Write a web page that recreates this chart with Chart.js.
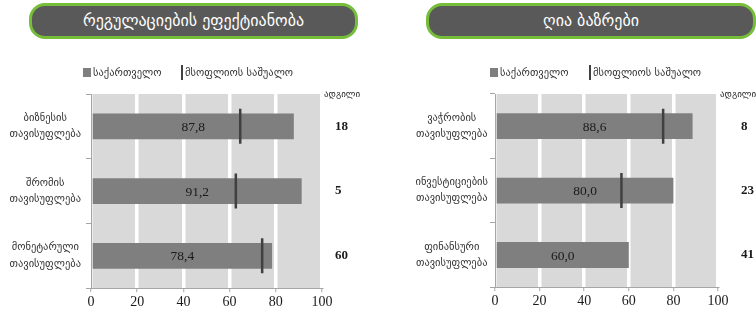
<!DOCTYPE html>
<html>
<head>
<meta charset="utf-8">
<script src="https://cdn.jsdelivr.net/npm/chart.js@4/dist/chart.umd.min.js"></script>
<style>
  html, body { margin: 0; padding: 0; background: #fff; }
  body { width: 756px; height: 318px; position: relative; overflow: hidden; font-family: "DejaVu Sans", sans-serif; }
  .panel { position: absolute; top: 0; width: 378px; height: 318px; }
  .panel canvas { position: absolute; left: 0; top: 0; }
  .title { position: absolute; top: 3px; height: 36px; box-sizing: border-box; border: 3px solid #76bd3a; border-radius: 16px; background: #595959; color: #fff; font-size: 16px; line-height: 30px; text-align: center; z-index: 2; }
  .leg { position: absolute; top: 64px; height: 16px; font-size: 10.5px; line-height: 16px; color: #333; z-index: 2; white-space: nowrap; }
  .sq { position: absolute; top: 4px; width: 8px; height: 9px; background: #7f7f7f; }
  .ln { position: absolute; top: 1px; width: 2px; height: 15px; background: #404040; }
</style>
</head>
<body>
<div class="panel" id="p1" style="left:0">
  <canvas id="c1" width="378" height="318"></canvas>
  <div class="title" style="left:29px;width:329px;">რეგულაციების ეფექტიანობა</div>
  <div class="leg" style="left:83px;width:250px;">
    <span class="sq" style="left:0"></span><span style="position:absolute;left:10px;">საქართველო</span>
    <span class="ln" style="left:98px"></span><span style="position:absolute;left:102px;">მსოფლიოს საშუალო</span>
  </div>
</div>
<div class="panel" id="p2" style="left:378px">
  <canvas id="c2" width="378" height="318"></canvas>
  <div class="title" style="left:48px;width:330px;">ღია ბაზრები</div>
  <div class="leg" style="left:112px;width:250px;">
    <span class="sq" style="left:0"></span><span style="position:absolute;left:10px;">საქართველო</span>
    <span class="ln" style="left:99px"></span><span style="position:absolute;left:103px;">მსოფლიოს საშუალო</span>
  </div>
</div>
<script>
// ---- data ----
const categoriesLeft = [
  ['ბიზნესის', 'თავისუფლება'],
  ['შრომის', 'თავისუფლება'],
  ['მონეტარული', 'თავისუფლება']
];
const georgiaLeft = [87.8, 91.2, 78.4];
const worldAvgLeft = [64.6, 62.7, 74.1];
const ranksLeft = ['18', '5', '60'];

const categoriesRight = [
  ['ვაჭრობის', 'თავისუფლება'],
  ['ინვესტიციების', 'თავისუფლება'],
  ['ფინანსური', 'თავისუფლება']
];
const georgiaRight = [88.6, 80.0, 60.0];
const worldAvgRight = [75.4, 56.7, null];
const ranksRight = ['8', '23', '41'];

const xTicks = [0, 20, 40, 60, 80, 100];
const seriesNames = ['საქართველო', 'მსოფლიოს საშუალო'];
const rankHeader = 'ადგილი';

Chart.defaults.devicePixelRatio = 1;
Chart.defaults.animation = false;

const serif = 'Liberation Serif, DejaVu Sans, serif';
const geo = 'DejaVu Sans, sans-serif';

const bgPlugin = {
  id: 'bg',
  beforeDraw(chart) {
    const a = chart.chartArea, ctx = chart.ctx;
    ctx.save();
    ctx.fillStyle = '#d9d9d9';
    ctx.fillRect(a.left, a.top, a.right - a.left, a.bottom - a.top);
    ctx.restore();
  }
};

const labelPlugin = {
  id: 'vals',
  afterDatasetsDraw(chart) {
    const ctx = chart.ctx;
    const meta = chart.getDatasetMeta(0);
    const ds = chart.data.datasets[0];
    ctx.save();
    ctx.font = '13.5px ' + serif;
    ctx.fillStyle = '#1a1a1a';
    ctx.textAlign = 'center';
    ctx.textBaseline = 'middle';
    meta.data.forEach((el, i) => {
      const v = ds.data[i];
      const cx = (el.x + el.base) / 2;
      ctx.fillText(v.toFixed(1).replace('.', ','), cx, el.y + 1);
    });
    // rank header
    const a = chart.chartArea;
    ctx.font = '9px ' + geo;
    ctx.textAlign = 'left';
    ctx.fillStyle = '#222';
    ctx.fillText(rankHeader, a.right + 2, a.top + 1);
    ctx.restore();
  }
};

function makeChart(id, cats, vals, avg, ranks, leftW, rightW, labPad, rankPad) {
  const pts = [];
  avg.forEach((v, i) => { if (v !== null) pts.push({ x: v, y: i }); });
  return new Chart(document.getElementById(id), {
    type: 'bar',
    data: {
      labels: cats,
      datasets: [
        {
          label: seriesNames[0],
          data: vals,
          backgroundColor: '#7f7f7f',
          borderWidth: 0,
          barPercentage: 0.8,
          categoryPercentage: 0.5,
          xAxisID: 'x', yAxisID: 'y',
          order: 2
        },
        {
          type: 'scatter',
          label: seriesNames[1],
          data: pts,
          pointStyle: 'line',
          rotation: 90,
          radius: 17.5,
          borderWidth: 2.5,
          borderColor: '#404040',
          backgroundColor: '#404040',
          showLine: false,
          xAxisID: 'x', yAxisID: 'y',
          order: 1
        }
      ]
    },
    options: {
      indexAxis: 'y',
      responsive: false,
      animation: false,
      events: [],
      layout: { padding: { top: 94, bottom: 5, left: 0, right: 0 } },
      plugins: { legend: { display: false }, tooltip: { enabled: false }, title: { display: false } },
      scales: {
        x: {
          type: 'linear',
          min: 0, max: 100,
          afterBuildTicks(s) { s.ticks = xTicks.map(v => ({ value: v })); },
          grid: { color: '#ffffff', lineWidth: 3.5, tickColor: '#a6a6a6', tickWidth: 1, tickLength: 4 },
          border: { display: true, color: '#a6a6a6', width: 1 },
          ticks: { font: { family: serif, size: 14 }, color: '#1a1a1a', padding: 2 }
        },
        y: {
          type: 'category',
          position: 'left',
          offset: true,
          afterFit(s) { s.width = leftW; },
          grid: { drawOnChartArea: false, tickLength: 5, color: '#a6a6a6', offset: true },
          border: { display: true, color: '#a6a6a6', width: 1 },
          ticks: { font: { family: geo, size: 10.5, lineHeight: 1.55 }, color: '#333', crossAlign: 'center', padding: labPad }
        },
        y2: {
          type: 'category',
          position: 'right',
          labels: ranks,
          offset: true,
          afterFit(s) { s.width = rightW; },
          grid: { display: false, drawTicks: false },
          border: { display: false },
          ticks: { font: { family: serif, size: 13, weight: 'bold' }, color: '#1a1a1a', crossAlign: 'near', padding: rankPad }
        }
      }
    },
    plugins: [bgPlugin, labelPlugin]
  });
}

makeChart('c1', categoriesLeft, georgiaLeft, worldAvgLeft, ranksLeft, 91, 56, 5, 13);
makeChart('c2', categoriesRight, georgiaRight, worldAvgRight, ranksRight, 117, 38, 2, 23);
</script>
</body>
</html>
